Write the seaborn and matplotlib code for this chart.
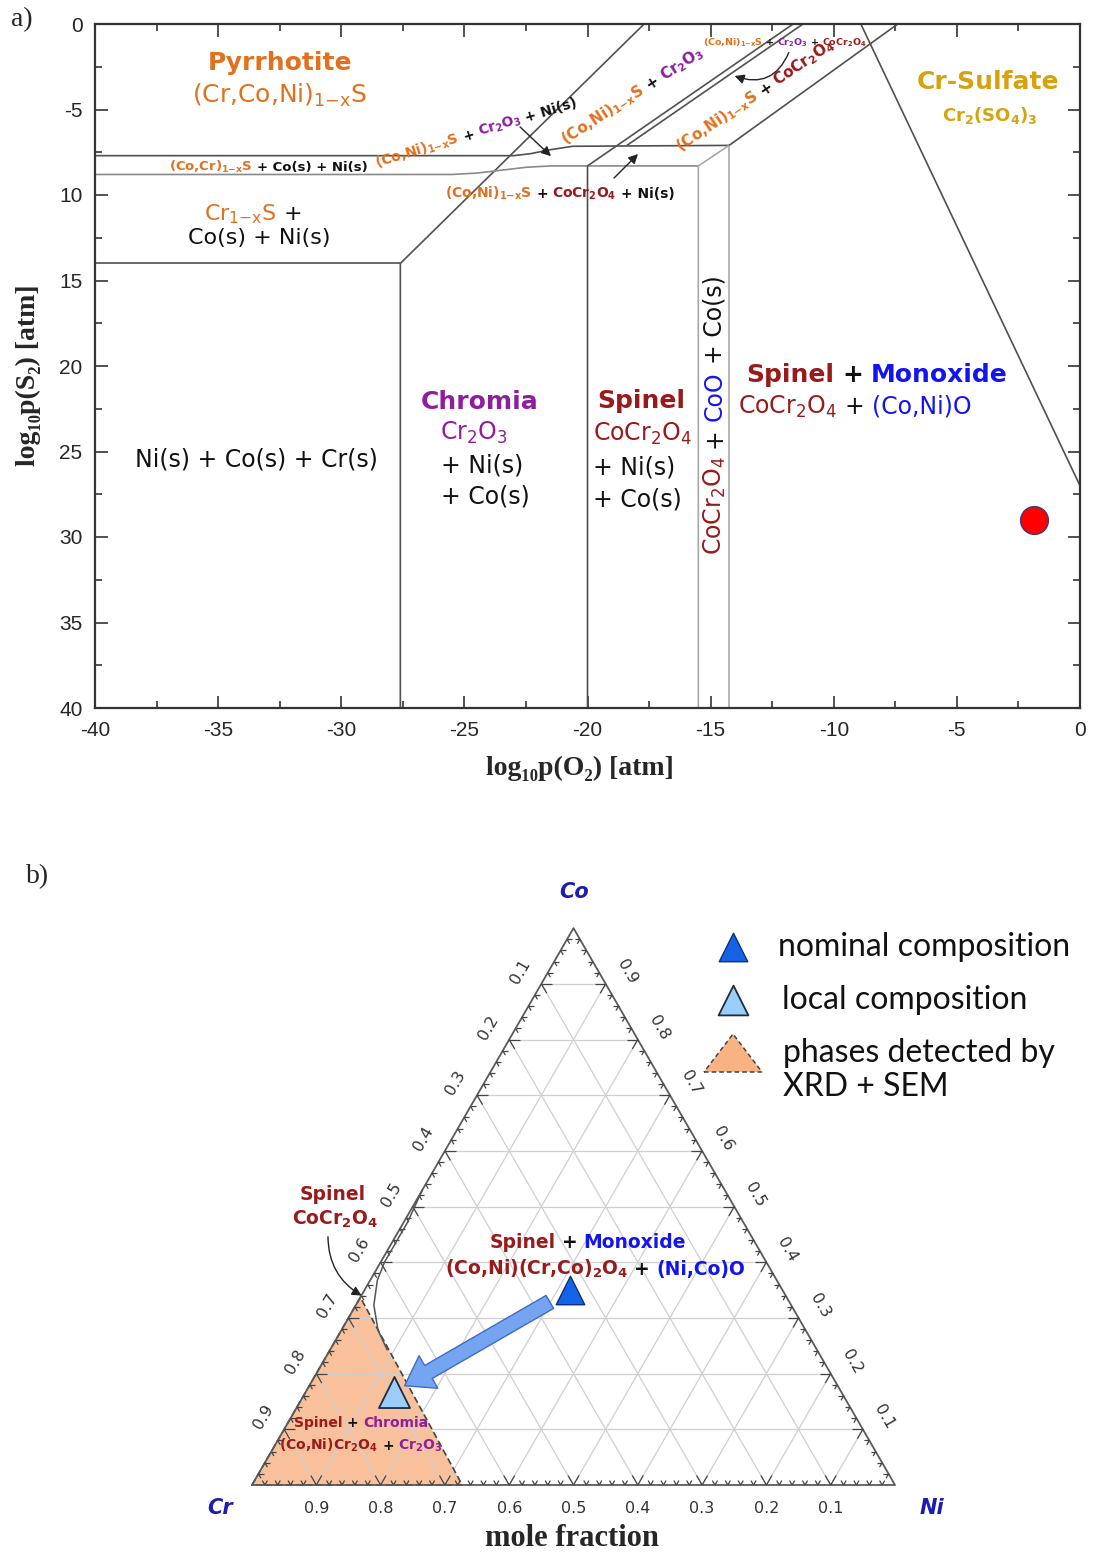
import numpy as np
import matplotlib
matplotlib.use('Agg')
import matplotlib.pyplot as plt
import seaborn as sns
from matplotlib.patches import Polygon
from matplotlib.collections import LineCollection

sns.set_style('ticks')
plt.rcParams['font.family'] = ['DejaVu Sans']
plt.rcParams['axes.unicode_minus'] = False
plt.rcParams['mathtext.fontset'] = 'dejavusans'
plt.rcParams['mathtext.default'] = 'regular'

ORANGE = '#E2701E'
SPINEL = '#981A1A'
CHROMIA = '#8E1E9E'
BLUE = '#1414F0'
GOLD = '#D6A20E'
K = '#111111'
DARK = '#505050'
LIGHT = '#A8A8A8'

# ---------------- panel a: predominance diagram ----------------
o2_ticks = [-40, -35, -30, -25, -20, -15, -10, -5, 0]
s2_ticks = [0, 5, 10, 15, 20, 25, 30, 35, 40]
s2_ticklabels = ['0', '-5', '10', '15', '20', '25', '30', '35', '40']

# phase boundaries (log10 pO2, -log10 pS2)
crs_x = [-40, -27.6]
crs_y = [14, 14]
chromia_x = [-27.6, -27.6, -17.7]
chromia_y = [40, 14, 0]
upper_x = [-40, -23.0, -22.3, -21.5, -20.6, -14.25]
upper_y = [7.7, 7.7, 7.58, 7.35, 7.15, 7.1]
lower_x = [-40, -25.5, -24.5, -23.5, -22.5, -21.5, -15.5]
lower_y = [8.8, 8.8, 8.72, 8.55, 8.38, 8.3, 8.3]
spinel_x = [-20.0, -20.0, -11.65]
spinel_y = [40, 8.3, 0]
spinel2_x = [-18.4, -11.25]
spinel2_y = [7.1, 0]
coo_x = [-15.5, -15.5, -14.25]
coo_y = [40, 8.3, 7.1]
monox_v_x = [-14.25, -14.25]
monox_v_y = [40, 7.1]
monox_x = [-14.25, -7.4]
monox_y = [7.1, 0]
sulfate_x = [-8.9, 0]
sulfate_y = [0, 27]

sample_o2 = [-1.85]
sample_s2 = [29.0]

# ---------------- panel b: ternary Co-Cr-Ni ----------------
nominal_co = [0.35]
nominal_ni = [0.32]
local_co = [0.167]
local_ni = [0.137]
phase_co = [0, 0.337, 0]
phase_ni = [0, 0, 0.327]
spinel_co = [0.53, 0.472, 0.431, 0.40, 0.368, 0.323, 0.278, 0.2425]
spinel_ni = [0.0, 0.006, 0.006, 0.006, 0.011, 0.028, 0.057, 0.089]
tern_labels = ['0.1', '0.2', '0.3', '0.4', '0.5', '0.6', '0.7', '0.8', '0.9']

# formulas
CONI_S = r'$\mathbf{(Co{,}Ni)_{1{-}x}S}$'
COCR_S = r'$\mathbf{(Co{,}Cr)_{1{-}x}S}$'
CR2O3_B = r'$\mathbf{Cr_2O_3}$'
SPN_B = r'$\mathbf{CoCr_2O_4}$'
CR2O3 = r'Cr$_2$O$_3$'
SPN = r'CoCr$_2$O$_4$'

W, H = 1094, 1555
fig = plt.figure(figsize=(W / 100, H / 100), dpi=100)
fig.patch.set_facecolor('white')


def box(l, t, r, b):
    return [l / W, 1 - b / H, (r - l) / W, (b - t) / H]


def rich(px, py, parts, size, weight='bold', rot=0, ha='center', gap=0.32, family=None):
    """colored text pieces laid out along a line, positioned in image pixels"""
    r = fig.canvas.get_renderer()
    kw = dict(fontsize=size, weight=weight)
    if family:
        kw['family'] = family
    widths = []
    for s, c in parts:
        t = fig.text(0, 0, s, **kw)
        widths.append(t.get_window_extent(r).width)
        t.remove()
    sp = gap * size * 100 / 72
    total = sum(widths) + sp * (len(parts) - 1)
    a = np.radians(rot)
    ux, uy = np.cos(a), np.sin(a)
    nx, ny = -uy, ux
    X, Y = px, H - py
    drop = 0.36 * size * 100 / 72
    off = -total / 2 if ha == 'center' else 0
    for (s, c), w in zip(parts, widths):
        bx = X + off * ux - drop * nx
        by = Y + off * uy - drop * ny
        fig.text(bx / W, by / H, s, color=c, rotation=rot, rotation_mode='anchor',
                 ha='left', va='baseline', **kw)
        off += w + sp


# ======== panel a ========
ax = fig.add_axes(box(95, 24, 1080, 708))
ax.set_xlim(-40, 0)
ax.set_ylim(40, 0)

bounds = [
    (crs_x, crs_y, DARK), (chromia_x, chromia_y, DARK), (upper_x, upper_y, DARK),
    (lower_x, lower_y, '#8a8a8a'), (spinel_x, spinel_y, DARK), (spinel2_x, spinel2_y, DARK),
    (coo_x, coo_y, LIGHT), (monox_v_x, monox_v_y, LIGHT), (monox_x, monox_y, DARK),
    (sulfate_x, sulfate_y, DARK),
]
for xs, ys, col in bounds:
    ax.plot(xs, ys, color=col, lw=1.2, solid_capstyle='butt')

sns.scatterplot(x=sample_o2, y=sample_s2, s=400, color='#FF0000', edgecolor='#3a3a80',
                linewidth=1, ax=ax, zorder=5, legend=False)

ax.set_xticks(o2_ticks)
ax.set_xticks(np.arange(-40, 0.1, 2.5), minor=True)
ax.set_yticks(s2_ticks)
ax.set_yticks(np.arange(0, 40.1, 2.5), minor=True)
ax.set_yticklabels(s2_ticklabels)
ax.tick_params(which='both', direction='in', top=True, right=True, color='#333333', width=1.2)
ax.tick_params(which='major', length=9, labelsize=15, pad=9)
ax.tick_params(which='minor', length=5)
for lab in ax.get_xticklabels() + ax.get_yticklabels():
    lab.set_family(['Liberation Sans', 'DejaVu Sans'])
for sp in ax.spines.values():
    sp.set_linewidth(1.6)
    sp.set_color('#333333')

serif = ['Liberation Serif', 'DejaVu Serif']
fig.text(580 / W, 1 - 768 / H, 'log₁₀p(O₂) [atm]', ha='center', va='center',
         fontsize=20, weight='bold', family=serif)
fig.text(28 / W, 1 - 375 / H, 'log₁₀p(S₂) [atm]', ha='center', va='center',
         fontsize=20, weight='bold', family=serif, rotation=90)
fig.text(22 / W, 1 - 20 / H, 'a)', ha='center', va='center', fontsize=20, family=serif)
fig.text(38 / W, 1 - 877 / H, 'b)', ha='center', va='center', fontsize=20, family=serif)

# arrows in panel a
arr = dict(arrowstyle='-|>', color='#222222', lw=1.0, mutation_scale=14)
ax.annotate('', xy=(-21.4, 7.84), xytext=(-22.82, 5.91), arrowprops=arr)
ax.annotate('', xy=(-17.87, 7.49), xytext=(-19.0, 9.12), arrowprops=arr)
ax.annotate('', xy=(-14.13, 2.98), xytext=(-11.78, 1.52),
            arrowprops=dict(arr, connectionstyle='arc3,rad=-0.5'))

# region labels panel a
rich(280, 61, [('Pyrrhotite', ORANGE)], 18)
rich(280, 94, [(r'(Cr,Co,Ni)$_{1{-}x}$S', ORANGE)], 18, weight='normal')
rich(253, 212, [(r'Cr$_{1{-}x}$S', ORANGE), ('+', K)], 16, weight='normal')
rich(259, 236, [('Co(s) + Ni(s)', K)], 16, weight='normal')
rich(268, 166, [(COCR_S, ORANGE), ('+ Co(s) + Ni(s)', K)], 9.5)
rich(476, 132, [(CONI_S, ORANGE), ('+', K), (CR2O3_B, CHROMIA), ('+ Ni(s)', K)], 10, rot=17)
rich(632, 95, [(CONI_S, ORANGE), ('+', K), (CR2O3_B, CHROMIA)], 11, rot=33)
rich(755, 95, [(CONI_S, ORANGE), ('+', K), (SPN_B, SPINEL)], 11, rot=34)
rich(785, 42, [(CONI_S, ORANGE), ('+', K), (CR2O3_B, CHROMIA), ('+', K), (SPN_B, SPINEL)], 6.8)
rich(560, 193, [(CONI_S, ORANGE), ('+', K), (SPN_B, SPINEL), ('+ Ni(s)', K)], 10)
rich(256, 458, [('Ni(s) + Co(s) + Cr(s)', K)], 17, weight='normal')

rich(480, 400, [('Chromia', CHROMIA)], 18)
rich(440, 431, [(CR2O3, CHROMIA)], 17, weight='normal', ha='left')
rich(441, 464, [('+ Ni(s)', K)], 17, weight='normal', ha='left')
rich(441, 495, [('+ Co(s)', K)], 17, weight='normal', ha='left')

rich(641, 399, [('Spinel', SPINEL)], 18)
rich(642, 432, [(SPN, SPINEL)], 17, weight='normal')
rich(593, 466, [('+ Ni(s)', K)], 17, weight='normal', ha='left')
rich(593, 498, [('+ Co(s)', K)], 17, weight='normal', ha='left')

rich(713, 415, [(SPN, SPINEL), ('+', K), ('CoO', BLUE), ('+ Co(s)', K)], 17,
     weight='normal', rot=90)
rich(877, 373, [('Spinel', SPINEL), ('+', K), ('Monoxide', BLUE)], 18)
rich(855, 405, [(SPN, SPINEL), ('+', K), ('(Co,Ni)O', BLUE)], 17, weight='normal')
rich(988, 80, [('Cr-Sulfate', GOLD)], 18)
rich(990, 114, [(r'$\mathbf{Cr_2(SO_4)_3}$', GOLD)], 13)

# ======== panel b ========
S = 643.0
ax2 = fig.add_axes([0, 0, 1, 695 / H])
ax2.set_xlim(-252 / S, (W - 252) / S)
ax2.set_ylim(-(1555 - 1485) / S, (1485 - 860) / S)
ax2.axis('off')
ct = np.sqrt(3) / 2


def tern(co, ni):
    co = np.asarray(co, float)
    ni = np.asarray(ni, float)
    return ni + co / 2, co * ct


def p2t(px, py):
    return (px - 252) / S, (1485 - py) / S


steps = np.arange(1, 10) / 10
grid = []
for k in steps:
    grid.append([tern(k, 0), tern(k, 1 - k)])
    grid.append([tern(0, k), tern(1 - k, k)])
    grid.append([tern(1 - k, 0), tern(0, 1 - k)])
ax2.add_collection(LineCollection(grid, colors='#cfcfcf', lw=0.9, zorder=2))

# phase field detected by XRD + SEM
px_, py_ = tern(phase_co, phase_ni)
ax2.add_patch(Polygon(np.c_[px_, py_], closed=True, fc='#F9C19B', ec='none', zorder=1))
ax2.add_patch(Polygon(np.c_[px_, py_], closed=True, fc='none', ec='#444444', ls=(0, (4, 2)),
                      lw=1.2, zorder=3))

# outer triangle
ex, ey = tern([0, 0, 1, 0], [0, 1, 0, 0])
ax2.plot(ex, ey, color='#5a5a5a', lw=1.3, zorder=4)

# ticks along the edges
tk = []
for f in np.arange(0.02, 0.999, 0.02):
    L = 0.017 if abs(f * 10 - round(f * 10)) < 1e-6 else 0.008
    bx, by = tern(0, f)
    for dx, dy in [(0.5, ct), (-0.5, ct)]:
        tk.append([(bx, by), (bx + L * dx, by + L * dy)])
    lx, ly = tern(f, 0)
    for dx, dy in [(1, 0), (0.5, -ct)]:
        tk.append([(lx, ly), (lx + L * dx, ly + L * dy)])
    rx, ry = tern(f, 1 - f)
    for dx, dy in [(-1, 0), (-0.5, -ct)]:
        tk.append([(rx, ry), (rx + L * dx, ry + L * dy)])
ax2.add_collection(LineCollection(tk, colors='#444444', lw=0.9, zorder=4))

for i, k in enumerate(steps):
    bx, by = tern(0, k)
    ax2.text(bx, by - 0.036, tern_labels[8 - i], ha='center', va='center', fontsize=11.5,
             color='#333333')
    lx, ly = tern(k, 0)
    ax2.text(lx - 0.038 * ct, ly + 0.019, tern_labels[8 - i], ha='center', va='center',
             fontsize=11.5, color='#333333', rotation=60)
    rx, ry = tern(k, 1 - k)
    ax2.text(rx + 0.038 * ct, ry + 0.019, tern_labels[i], ha='center', va='center',
             fontsize=11.5, color='#333333', rotation=-60)

# spinel boundary
sx, sy = tern(spinel_co, spinel_ni)
ax2.plot(sx, sy, color='#555555', lw=1.1, zorder=4)

# compositions
nx_, ny_ = tern(nominal_co, nominal_ni)
lx_, ly_ = tern(local_co, local_ni)
sns.scatterplot(x=nx_, y=ny_, marker='^', s=420, color='#1462E6', edgecolor='#0a2f80',
                linewidth=1, ax=ax2, zorder=6, legend=False)
sns.scatterplot(x=lx_, y=ly_, marker='^', s=500, color='#9ACDFA', edgecolor='#1c2a44',
                linewidth=1.3, ax=ax2, zorder=6, legend=False)
ax2.annotate('', xy=(lx_[0], ly_[0]), xytext=(nx_[0], ny_[0]),
             arrowprops=dict(arrowstyle='simple,head_length=1.1,head_width=1.5,tail_width=0.6',
                             fc='#75A5F0', ec='#3C6CC8', lw=1, mutation_scale=18,
                             shrinkA=17, shrinkB=9), zorder=5)

# spinel label arrow
ax2.annotate('', xy=p2t(364, 1297), xytext=p2t(328, 1234),
             arrowprops=dict(arrowstyle='-|>', color='#222222', lw=1.0, mutation_scale=14,
                             connectionstyle='arc3,rad=0.3'), zorder=6)

rich(333, 1193, [('Spinel', SPINEL)], 13.5)
rich(335, 1218, [(SPN_B, SPINEL)], 13.5)
rich(588, 1241, [('Spinel', SPINEL), ('+', K), ('Monoxide', BLUE)], 13.5)
rich(595, 1268, [(r'$\mathbf{(Co{,}Ni)(Cr{,}Co)_2O_4}$', SPINEL), ('+', K),
                 ('(Ni,Co)O', BLUE)], 13.5)
rich(361, 1422, [('Spinel', SPINEL), ('+', K), ('Chromia', CHROMIA)], 10)
rich(361, 1445, [(r'$\mathbf{(Co{,}Ni)Cr_2O_4}$', SPINEL), ('+', K), (CR2O3_B, CHROMIA)], 10)

corner = dict(fontsize=15, weight='bold', style='italic', color='#1C1CB0', ha='center',
              va='center')
ax2.text(*p2t(574, 892), 'Co', **corner)
ax2.text(*p2t(220, 1508), 'Cr', **corner)
ax2.text(*p2t(932, 1508), 'Ni', **corner)
ax2.text(*p2t(572, 1538), 'mole fraction', ha='center', va='center', fontsize=22,
         weight='bold', family=serif)

# legend
ax2.scatter(*p2t(733, 947), marker='^', s=420, color='#1462E6', edgecolor='#0a2f80',
            linewidth=1, zorder=6)
ax2.scatter(*p2t(733, 1000), marker='^', s=460, color='#9ACDFA', edgecolor='#1c2a44',
            linewidth=1.3, zorder=6)
leg_tri = [p2t(704, 1072), p2t(762, 1072), p2t(733, 1034)]
ax2.add_patch(Polygon(leg_tri, closed=True, fc='#F9B383', ec='#444444', ls=(0, (3, 2)),
                      lw=1.1, zorder=6))
legend_font = ['Lato', 'DejaVu Sans']
for (px, py), s in zip([(778, 947), (782, 1000), (783, 1053), (783, 1087)],
                       ['nominal composition', 'local composition', 'phases detected by',
                        'XRD + SEM']):
    ax2.text(*p2t(px, py), s, ha='left', va='center', fontsize=23, family=legend_font,
             color='#111111')

fig.savefig('out.png', dpi=100, facecolor='white')
